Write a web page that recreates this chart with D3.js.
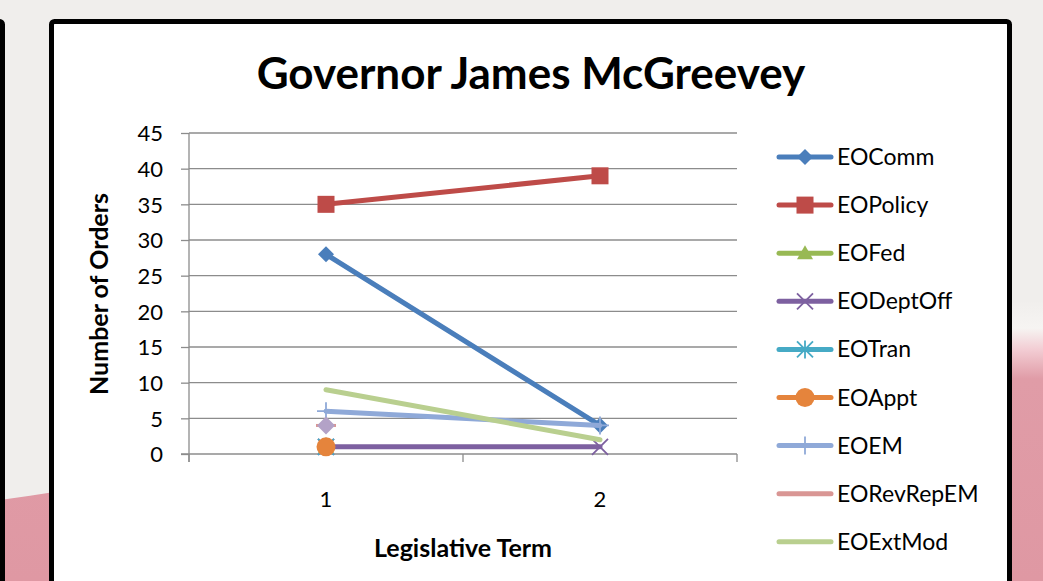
<!DOCTYPE html>
<html>
<head>
<meta charset="utf-8">
<script src="https://cdn.jsdelivr.net/npm/d3@7"></script>
<style>
  body { margin: 0; padding: 0; background: #f0eeec; }
  svg { display: block; font-family: Lato, "Open Sans", sans-serif; }
</style>
</head>
<body>
<div id="chart_container"></div>
<script>
// chart data
var terms = ["1", "2"];
var seriesNames = ["EOComm", "EOPolicy", "EOFed", "EODeptOff", "EOTran", "EOAppt", "EOEM", "EORevRepEM", "EOExtMod"];
var eoComm = [28, 4];
var eoPolicy = [35, 39];
var eoFed = [1, null];
var eoDeptOff = [1, 1];
var eoTran = [1, null];
var eoAppt = [1, null];
var eoEM = [6, 4];
var eoRevRepEM = [4, null];
var eoExtMod = [9, 2];
var yTicks = [0, 5, 10, 15, 20, 25, 30, 35, 40, 45];

var seriesValues = [eoComm, eoPolicy, eoFed, eoDeptOff, eoTran, eoAppt, eoEM, eoRevRepEM, eoExtMod];
var colors = ["#4a7ebb", "#be4b48", "#98b954", "#7d60a0", "#46aac5", "#e5843c", "#8fa9d8", "#d99694", "#b9cf8f"];
var markers = ["diamond", "square", "triangle", "x", "star", "circle", "plus", "lilac", "none"];

var W = 1043, H = 581;
var svg = d3.select("#chart_container").append("svg")
    .attr("width", W)
    .attr("height", H);

// background with pink wave
var defs = svg.append("defs");
var grad = defs.append("linearGradient").attr("id", "pinkfade")
    .attr("x1", 0).attr("y1", 0).attr("x2", 0).attr("y2", 1);
grad.append("stop").attr("offset", "0%").attr("stop-color", "#f0eeec");
grad.append("stop").attr("offset", "10%").attr("stop-color", "#f6f4f2");
grad.append("stop").attr("offset", "18%").attr("stop-color", "#f2cbd2");
grad.append("stop").attr("offset", "28%").attr("stop-color", "#e09ca7");
grad.append("stop").attr("offset", "100%").attr("stop-color", "#df98a3");

svg.append("rect").attr("width", W).attr("height", H).attr("fill", "#f0eeec");
svg.append("path")
    .attr("d", "M0,500 C300,460 700,330 1043,300 L1043,581 L0,581 Z")
    .attr("fill", "url(#pinkfade)");

// left neighbour box edge
svg.append("rect")
    .attr("x", -40).attr("y", 21.5).attr("width", 42.5).attr("height", 620)
    .attr("rx", 3)
    .attr("fill", "none").attr("stroke", "black").attr("stroke-width", 5);

// main box
svg.append("rect")
    .attr("x", 51.5).attr("y", 21.5).attr("width", 958).attr("height", 620)
    .attr("rx", 3)
    .attr("fill", "white").attr("stroke", "black").attr("stroke-width", 5);

var margin = {left: 189, right: 737, top: 133, bottom: 454};

var x = d3.scaleBand().domain(terms).range([margin.left, margin.right]);
var y = d3.scaleLinear().domain([0, 45]).range([margin.bottom, margin.top]);

// gridlines
svg.append("g").selectAll("line")
    .data(yTicks.filter(function(d) { return d > 0; }))
    .enter().append("line")
    .attr("x1", margin.left).attr("x2", margin.right)
    .attr("y1", function(d) { return y(d); })
    .attr("y2", function(d) { return y(d); })
    .attr("stroke", "#8c8c8c").attr("stroke-width", 1.3);

// y axis
var yAxis = d3.axisLeft(y).tickValues(yTicks).tickSize(8).tickPadding(18);
var yg = svg.append("g").attr("transform", "translate(" + margin.left + ",0)").call(yAxis);
yg.select(".domain").attr("stroke", "#8c8c8c").attr("stroke-width", 1.3)
    .attr("d", "M0," + margin.top + "V" + (margin.bottom + 8));
yg.selectAll(".tick line").attr("stroke", "#8c8c8c").attr("stroke-width", 1.3);
yg.selectAll(".tick text").attr("font-size", 22).attr("fill", "black")
    .attr("font-family", "Lato, sans-serif").attr("dy", "0.35em");

// x axis
var xg = svg.append("g").attr("transform", "translate(0," + margin.bottom + ")");
xg.append("line")
    .attr("x1", margin.left - 8).attr("x2", margin.right)
    .attr("stroke", "#8c8c8c").attr("stroke-width", 1.3);
xg.selectAll(".xtick")
    .data([margin.left, margin.left + x.bandwidth(), margin.right])
    .enter().append("line")
    .attr("x1", function(d) { return d; }).attr("x2", function(d) { return d; })
    .attr("y1", 0).attr("y2", 8)
    .attr("stroke", "#8c8c8c").attr("stroke-width", 1.3);
xg.selectAll(".xlabel")
    .data(terms)
    .enter().append("text")
    .attr("x", function(d) { return x(d) + x.bandwidth() / 2; })
    .attr("y", 53)
    .attr("text-anchor", "middle")
    .attr("font-size", 22)
    .text(function(d) { return d; });

// titles
svg.append("text")
    .attr("x", 531).attr("y", 89)
    .attr("text-anchor", "middle")
    .attr("font-size", 44).attr("font-weight", "bold")
    .text("Governor James McGreevey");

svg.append("text")
    .attr("transform", "translate(108,294) rotate(-90)")
    .attr("text-anchor", "middle")
    .attr("font-size", 25).attr("font-weight", "bold")
    .text("Number of Orders");

svg.append("text")
    .attr("x", 463).attr("y", 557)
    .attr("text-anchor", "middle")
    .attr("font-size", 25).attr("font-weight", "bold")
    .text("Legislative Term");

// marker drawing
function drawMarker(g, type, cx, cy, color) {
    if (type == "diamond") {
        g.append("path").attr("d", "M" + cx + "," + (cy - 8) + "L" + (cx + 8) + "," + cy + "L" + cx + "," + (cy + 8) + "L" + (cx - 8) + "," + cy + "Z")
            .attr("fill", color);
    } else if (type == "lilac") {
        g.append("line").attr("x1", cx - 10).attr("x2", cx + 10).attr("y1", cy).attr("y2", cy)
            .attr("stroke", "#d99694").attr("stroke-width", 3);
        g.append("path").attr("d", "M" + cx + "," + (cy - 9) + "L" + (cx + 9) + "," + cy + "L" + cx + "," + (cy + 9) + "L" + (cx - 9) + "," + cy + "Z")
            .attr("fill", "#b3a2c7");
    } else if (type == "square") {
        g.append("rect").attr("x", cx - 8.5).attr("y", cy - 8.5).attr("width", 17).attr("height", 17)
            .attr("fill", color);
    } else if (type == "triangle") {
        g.append("path").attr("d", "M" + cx + "," + (cy - 8) + "L" + (cx + 8) + "," + (cy + 6) + "L" + (cx - 8) + "," + (cy + 6) + "Z")
            .attr("fill", color);
    } else if (type == "x") {
        g.append("path").attr("d", "M" + (cx - 8) + "," + (cy - 8) + "L" + (cx + 8) + "," + (cy + 8) + "M" + (cx + 8) + "," + (cy - 8) + "L" + (cx - 8) + "," + (cy + 8))
            .attr("stroke", color).attr("stroke-width", 1.8);
    } else if (type == "star") {
        g.append("path").attr("d", "M" + (cx - 8) + "," + (cy - 8) + "L" + (cx + 8) + "," + (cy + 8) + "M" + (cx + 8) + "," + (cy - 8) + "L" + (cx - 8) + "," + (cy + 8) + "M" + cx + "," + (cy - 9) + "L" + cx + "," + (cy + 9))
            .attr("stroke", color).attr("stroke-width", 1.8);
    } else if (type == "circle") {
        g.append("circle").attr("cx", cx).attr("cy", cy).attr("r", 9.5).attr("fill", color);
    } else if (type == "plus") {
        g.append("path").attr("d", "M" + (cx - 9) + "," + cy + "L" + (cx + 9) + "," + cy + "M" + cx + "," + (cy - 9) + "L" + cx + "," + (cy + 9))
            .attr("stroke", color).attr("stroke-width", 1.8);
    }
}

var line = d3.line()
    .defined(function(d) { return d != null; })
    .x(function(d, i) { return x(terms[i]) + x.bandwidth() / 2; })
    .y(function(d) { return y(d); });

var plot = svg.append("g");
seriesValues.forEach(function(vals, s) {
    var g = plot.append("g");
    g.append("path")
        .datum(vals)
        .attr("d", line)
        .attr("fill", "none")
        .attr("stroke", colors[s])
        .attr("stroke-width", 5)
        .attr("stroke-linecap", "round");
    vals.forEach(function(v, i) {
        if (v == null) return;
        drawMarker(g, markers[s], x(terms[i]) + x.bandwidth() / 2, y(v), colors[s]);
    });
});

// legend
var legend = svg.append("g");
seriesNames.forEach(function(name, s) {
    var ly = 157 + s * 48.1;
    var g = legend.append("g");
    g.append("line").attr("x1", 779).attr("x2", 831).attr("y1", ly).attr("y2", ly)
        .attr("stroke", colors[s]).attr("stroke-width", 5).attr("stroke-linecap", "round");
    var m = markers[s] == "lilac" ? "none" : markers[s];
    drawMarker(g, m, 805, ly, colors[s]);
    g.append("text").attr("x", 837).attr("y", ly).attr("dy", "0.35em")
        .attr("font-size", 23).text(name);
});
</script>
</body>
</html>
